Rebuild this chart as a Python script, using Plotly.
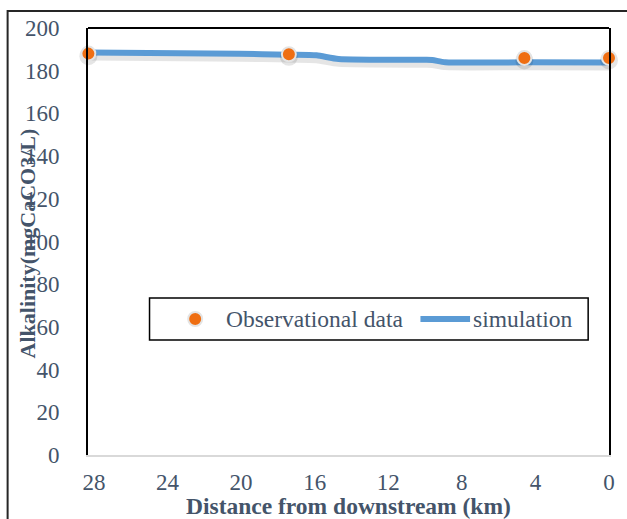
import plotly.graph_objects as go

# Observed alkalinity along the river (distance measured from the downstream end)
obs_km = [28.3, 17.4, 4.6, 0.0]
obs_alk = [188.0, 187.7, 186.0, 186.0]

# Simulated alkalinity profile
sim_km = [28.3, 20.1, 17.4, 15.9, 14.7, 10.0, 9.6, 8.9, 4.6, 0.0]
sim_alk = [188.5, 187.9, 187.5, 187.2, 185.5, 185.1, 185.0, 184.0, 183.9, 183.8]

x_ticks = [0, 4, 8, 12, 16, 20, 24, 28]
y_ticks = [0, 20, 40, 60, 80, 100, 120, 140, 160, 180, 200]

W, H = 627, 519
L, R, T, B = 88, 14, 28, 64
PW, PH = W - L - R, H - T - B

TEXT = "#44546A"
BLUE = "#5B9BD5"
ORANGE = "#EF6E12"
FONT = "Liberation Serif"
FS = 23


def px(xp):
    return (xp - L) / PW


def py(yp):
    return (H - B - yp) / PH


fig = go.Figure()

# soft drop shadow under the simulated line
fig.add_trace(go.Scatter(
    x=sim_km, y=[v - 1.6 for v in sim_alk], mode="lines",
    line=dict(color="rgba(0,0,0,0.10)", width=9, shape="spline", smoothing=0.6),
    hoverinfo="skip", showlegend=False))

fig.add_trace(go.Scatter(
    x=sim_km, y=sim_alk, mode="lines", name="simulation",
    line=dict(color=BLUE, width=6, shape="spline", smoothing=0.6),
    showlegend=False))

# marker shadow
fig.add_trace(go.Scatter(
    x=obs_km, y=[v - 1.2 for v in obs_alk], mode="markers",
    marker=dict(size=18, color="rgba(0,0,0,0.10)", line=dict(width=0)),
    hoverinfo="skip", showlegend=False, cliponaxis=False))

fig.add_trace(go.Scatter(
    x=obs_km, y=obs_alk, mode="markers", name="Observational data",
    marker=dict(size=14, color=ORANGE, line=dict(color="#E4E4E4", width=2)),
    showlegend=False, cliponaxis=False))

shapes = [
    # outer chart frame
    dict(type="rect", xref="paper", yref="paper",
         x0=px(7), x1=px(640), y0=py(540), y1=py(11),
         line=dict(color="#262626", width=2), layer="below"),
    # plot frame: top edge
    dict(type="line", xref="paper", yref="paper",
         x0=0, x1=1, y0=1, y1=1, line=dict(color="black", width=2)),
    # legend box
    dict(type="rect", xref="paper", yref="paper",
         x0=px(150), x1=px(592), y0=py(340), y1=py(298),
         line=dict(color="black", width=1.5), fillcolor="white"),
    # legend marker
    dict(type="circle", xref="paper", yref="paper",
         xsizemode="pixel", ysizemode="pixel",
         xanchor=px(196), yanchor=py(319),
         x0=-7, x1=7, y0=-7, y1=7,
         fillcolor=ORANGE, line=dict(color="#E4E4E4", width=2)),
    # legend line sample
    dict(type="line", xref="paper", yref="paper",
         x0=px(423), x1=px(473), y0=py(319), y1=py(319),
         line=dict(color=BLUE, width=6)),
]

annotations = [
    dict(text="Observational data", xref="paper", yref="paper",
         x=px(225), y=py(319), xanchor="left", yanchor="middle",
         showarrow=False, font=dict(family=FONT, size=23.5, color=TEXT)),
    dict(text="simulation", xref="paper", yref="paper",
         x=px(474), y=py(319), xanchor="left", yanchor="middle",
         showarrow=False, font=dict(family=FONT, size=23.5, color=TEXT)),
    dict(text="<b>Alkalinity(mgCaCO3/L)</b>", xref="paper", yref="paper",
         x=px(27), y=py(243), xanchor="center", yanchor="middle",
         textangle=-90, showarrow=False,
         font=dict(family=FONT, size=22, color=TEXT)),
    dict(text="<b>Distance from downstream (km)</b>", xref="paper", yref="paper",
         x=px(350), y=py(506), xanchor="center", yanchor="middle",
         showarrow=False, font=dict(family=FONT, size=23.5, color=TEXT)),
]

fig.update_layout(
    width=W, height=H,
    margin=dict(l=L, r=R, t=T, b=B),
    paper_bgcolor="white", plot_bgcolor="white",
    font=dict(family=FONT, size=FS, color=TEXT),
    shapes=shapes, annotations=annotations,
    showlegend=False,
)

fig.update_xaxes(
    range=[28.32, 0], tickvals=x_ticks, ticktext=[str(v) for v in x_ticks],
    showgrid=False, zeroline=False,
    showline=True, linecolor="#D9D9D9", linewidth=2,
    ticks="", ticklabelstandoff=5,
    tickfont=dict(family=FONT, size=FS, color=TEXT),
)

fig.update_yaxes(
    range=[0, 200], tickvals=y_ticks, ticktext=[str(v) for v in y_ticks],
    showgrid=False, zeroline=False,
    showline=True, linecolor="black", linewidth=2, mirror=True,
    ticks="", ticklabelstandoff=22,
    tickfont=dict(family=FONT, size=FS, color=TEXT),
)

fig.write_html("out.html")
